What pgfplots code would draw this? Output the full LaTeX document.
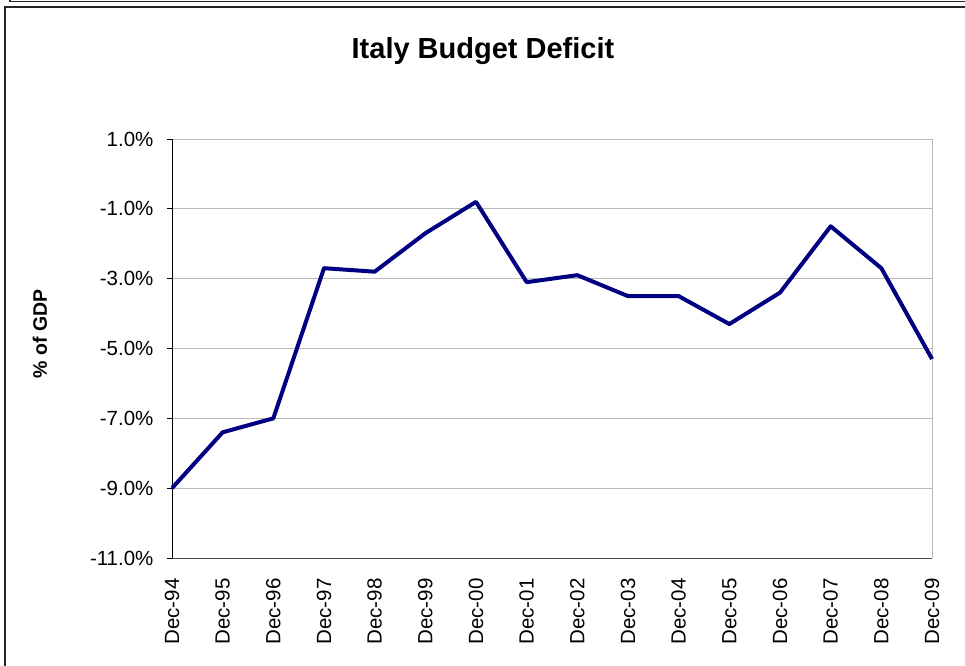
\documentclass[border=0pt]{standalone}
\usepackage{pgfplots}
\pgfplotsset{compat=1.18}
\usepackage{fontspec}
\setmainfont{Liberation Sans}
\definecolor{navyline}{RGB}{0,0,128}
\begin{document}
\begin{tikzpicture}[x=1pt,y=1pt]
\path[use as bounding box] (0,0) rectangle (965,665);
\draw[line width=1.5pt, black!85] (10,667) -- (10,663.5) -- (970,663.5);
\draw[line width=2pt, black!85] (5,-5) -- (5,657.5) -- (970,657.5);
\node[font=\bfseries\fontsize{29}{34}\selectfont] at (483,614) {Italy Budget Deficit};
\node[font=\bfseries\fontsize{19.5}{23}\selectfont, rotate=90] at (40,331) {\% of GDP};
\begin{axis}[
  at={(172pt,107pt)}, anchor=south west,
  scale only axis, width=760pt, height=419pt,
  xmin=0, xmax=15, ymin=-11, ymax=1,
  axis lines=left,
  axis line style={-},
  x axis line style={gray!60!black, line width=0.8pt},
  y axis line style={black, line width=0.8pt},
  ytick={-11,-9,-7,-5,-3,-1,1},
  yticklabels={-11.0\%,-9.0\%,-7.0\%,-5.0\%,-3.0\%,-1.0\%,1.0\%},
  xtick={0,...,15},
  xticklabels={Dec-94,Dec-95,Dec-96,Dec-97,Dec-98,Dec-99,Dec-00,Dec-01,Dec-02,Dec-03,Dec-04,Dec-05,Dec-06,Dec-07,Dec-08,Dec-09},
  x tick label style={rotate=90, anchor=east, xshift=-12pt, font=\fontsize{20.5}{24}\selectfont},
  y tick label style={xshift=-10pt, font=\fontsize{20.5}{24}\selectfont},
  xtick style={draw=none},
  ytick style={black, line width=0.8pt},
  tick align=outside,
  major tick length=5pt,
  ymajorgrids,
  grid style={gray!55, line width=0.8pt},
  clip=false,
]
\draw[gray!55, line width=0.8pt] (rel axis cs:1,0) -- (rel axis cs:1,1);
\addplot[navyline, line width=4pt, mark=none, line join=round] coordinates {
(0,-9.0) (1,-7.4) (2,-7.0) (3,-2.7) (4,-2.8) (5,-1.7) (6,-0.8) (7,-3.1)
(8,-2.9) (9,-3.5) (10,-3.5) (11,-4.3) (12,-3.4) (13,-1.5) (14,-2.7) (15,-5.3)};
\end{axis}
\end{tikzpicture}
\end{document}
